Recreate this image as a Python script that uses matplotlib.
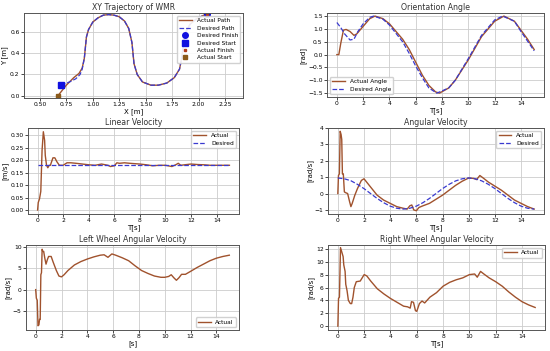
import numpy as np
from matplotlib import pyplot as plt

# ---- data ----
xy_actual_x = [0.67, 0.75, 0.82, 0.87, 0.90, 0.92, 0.93, 0.94, 0.96, 1.00, 1.05, 1.10, 1.15, 1.20, 1.25,
               1.30, 1.34, 1.37, 1.38, 1.39, 1.42, 1.47, 1.55, 1.62, 1.70, 1.77, 1.82, 1.84, 1.86, 1.88,
               1.92, 1.98, 2.04, 2.08]
xy_actual_y = [0.00, 0.10, 0.17, 0.21, 0.26, 0.35, 0.45, 0.55, 0.62, 0.69, 0.73, 0.755, 0.76, 0.755, 0.74,
               0.70, 0.63, 0.50, 0.40, 0.30, 0.20, 0.13, 0.10, 0.10, 0.12, 0.17, 0.25, 0.35, 0.50, 0.60,
               0.67, 0.72, 0.75, 0.77]
xy_desired_x = [0.70, 0.78, 0.84, 0.88, 0.90] + xy_actual_x[5:]
xy_desired_y = [0.10, 0.13, 0.16, 0.20, 0.25] + xy_actual_y[5:]

th_t = [0, 0.15, 0.3, 0.5, 0.7, 1.0, 1.3, 1.5, 2.0, 2.5, 2.9, 3.5, 4, 5, 5.5, 6, 6.5, 7, 7.5, 7.8,
        8.5, 9, 10, 11, 12, 12.7, 13.5, 14, 14.5, 15]
th_actual = [0, 0, 0.45, 0.95, 0.98, 0.9, 0.75, 0.8, 1.1, 1.4, 1.5, 1.4, 1.2, 0.6, 0.2, -0.3, -0.8, -1.2,
             -1.45, -1.5, -1.3, -1.0, -0.2, 0.7, 1.3, 1.5, 1.3, 0.95, 0.6, 0.2]
thd_t = [0, 0.3, 0.6, 1.0, 1.3, 1.6, 2.0, 2.5, 2.8, 3.5, 4, 5, 5.5, 6, 6.5, 7, 7.6, 8.5, 9, 10, 11, 12,
         12.6, 13.5, 14, 15]
th_desired = [1.25, 1.05, 0.8, 0.57, 0.6, 0.9, 1.2, 1.45, 1.5, 1.38, 1.15, 0.5, 0.05, -0.45, -0.9, -1.3,
              -1.5, -1.3, -1.0, -0.15, 0.75, 1.35, 1.5, 1.3, 0.9, 0.15]

v_t = [0, 0.05, 0.15, 0.25, 0.35, 0.45, 0.55, 0.6, 0.7, 0.8, 0.9, 1.0, 1.2, 1.35, 1.5, 1.7, 2.0, 2.3,
       2.6, 3, 3.5, 4, 4.5, 5, 5.5, 5.7, 6, 6.2, 6.4, 6.8, 7.2, 8, 8.5, 9, 9.5, 10, 10.5, 10.8, 11,
       11.2, 11.5, 12, 12.5, 13, 13.5, 14, 15]
v_actual = [0, 0.03, 0.045, 0.075, 0.24, 0.315, 0.28, 0.22, 0.18, 0.17, 0.18, 0.18, 0.21, 0.21, 0.195,
            0.18, 0.18, 0.19, 0.19, 0.188, 0.185, 0.182, 0.18, 0.185, 0.18, 0.175, 0.178, 0.19, 0.188,
            0.19, 0.188, 0.185, 0.182, 0.178, 0.18, 0.18, 0.175, 0.182, 0.188, 0.18, 0.182, 0.185,
            0.183, 0.182, 0.18, 0.18, 0.18]
vd_t = [0, 15]
v_desired = [0.18, 0.18]

w_t = [0, 0.05, 0.12, 0.18, 0.25, 0.3, 0.35, 0.42, 0.5, 0.6, 0.75, 0.9, 1.0, 1.1, 1.3, 1.5, 1.8, 2.0,
       2.3, 2.7, 3.0, 3.5, 4, 4.5, 5, 5.3, 5.5, 5.65, 5.8, 6.0, 6.2, 6.5, 7, 7.5, 8, 8.5, 9, 9.5, 10,
       10.4, 10.6, 10.85, 11.1, 11.5, 12, 12.5, 13, 13.5, 14, 14.5, 15]
w_actual = [0, 1.1, 1.2, 3.8, 3.6, 3.3, 1.2, 1.2, 0.1, 0.05, 0, -0.5, -0.8, -0.6, -0.1, 0.3, 0.8, 0.9,
            0.6, 0.2, -0.1, -0.4, -0.6, -0.8, -0.9, -0.95, -0.75, -0.7, -1.0, -1.05, -0.85, -0.75, -0.6,
            -0.35, -0.1, 0.2, 0.5, 0.75, 0.95, 0.92, 0.85, 1.1, 0.95, 0.7, 0.45, 0.2, -0.1, -0.4, -0.6,
            -0.8, -0.95]
wd_t = [0, 0.5, 1, 1.5, 2, 2.5, 3, 3.5, 4, 4.5, 5, 5.5, 6, 6.5, 7, 7.5, 8, 8.5, 9, 9.5, 10, 10.5, 11,
        11.5, 12, 12.5, 13, 13.5, 14, 14.5, 15]
w_desired = [0.95, 0.9, 0.78, 0.56, 0.3, 0, -0.3, -0.56, -0.77, -0.9, -0.95, -0.9, -0.77, -0.56, -0.3,
             0, 0.3, 0.56, 0.77, 0.9, 0.95, 0.9, 0.77, 0.56, 0.3, 0, -0.3, -0.56, -0.77, -0.9, -0.95]

wl_t = [0, 0.05, 0.12, 0.18, 0.25, 0.3, 0.35, 0.4, 0.45, 0.5, 0.55, 0.62, 0.7, 0.8, 0.9, 1.0, 1.2,
        1.35, 1.6, 1.8, 2.0, 2.2, 2.5, 3, 3.5, 4, 4.5, 5, 5.3, 5.6, 5.9, 6.2, 6.7, 7.2, 7.7, 8.2, 8.7,
        9.2, 9.7, 10, 10.3, 10.5, 10.7, 10.9, 11.1, 11.3, 11.6, 12, 12.5, 13, 13.5, 14, 14.5, 15]
wl_actual = [0, -2, -2.5, -8.5, -8.3, -7, -7, 3.5, 4, 9.5, 9.0, 9.0, 7.5, 6.0, 7.0, 7.8, 7.8, 6.5, 4.5,
             3.2, 3.0, 3.5, 4.5, 5.8, 6.6, 7.2, 7.7, 8.1, 8.2, 7.6, 8.4, 8.1, 7.5, 6.8, 5.6, 4.5, 3.8,
             3.2, 2.9, 2.9, 3.1, 3.5, 2.8, 2.2, 2.8, 3.6, 3.6, 4.3, 5.2, 6.0, 6.8, 7.4, 7.8, 8.1]

wr_t = [0, 0.05, 0.12, 0.2, 0.3, 0.4, 0.45, 0.55, 0.6, 0.7, 0.8, 0.95, 1.05, 1.15, 1.25, 1.4, 1.7, 2.0,
        2.2, 2.5, 3, 3.5, 4, 4.5, 5, 5.3, 5.5, 5.6, 5.75, 5.9, 6.0, 6.2, 6.4, 6.6, 7, 7.5, 8, 8.5, 9,
        9.5, 10, 10.4, 10.6, 10.85, 11.1, 11.5, 12, 12.5, 13, 13.5, 14, 14.5, 15]
wr_actual = [0, 4.3, 4.5, 12.2, 11.5, 10.8, 9.5, 8.5, 6.5, 5.5, 4.0, 3.5, 3.5, 4.5, 6.0, 6.9, 7.0, 8.0,
             7.8, 7.0, 5.8, 5.0, 4.3, 3.7, 3.1, 3.0, 2.8, 3.8, 3.7, 2.4, 2.3, 3.5, 3.9, 3.6, 4.5, 5.2,
             6.2, 6.8, 7.2, 7.5, 8.0, 8.1, 7.6, 8.5, 8.1, 7.5, 6.9, 6.2, 5.3, 4.5, 3.8, 3.3, 2.9]

t_ticks = [0, 2, 4, 6, 8, 10, 12, 14]

act_c = '#a0522d'
des_c = '#3a3ad0'

fig = plt.figure(figsize=(5.5, 3.51), dpi=100)


def box(l, r, t, b):
    return [l / 550, 1 - b / 351, (r - l) / 550, (b - t) / 351]


def style(ax, title, xlabel, ylabel):
    ax.set_title(title, fontsize=5.6, pad=2, color='#333333')
    ax.set_xlabel(xlabel, fontsize=5, labelpad=0.5)
    ax.set_ylabel(ylabel, fontsize=5, labelpad=1.2)
    ax.tick_params(labelsize=4.3, length=2, width=0.5, pad=1.2)
    ax.grid(True, color='#cccccc', linewidth=0.6)
    for s in ax.spines.values():
        s.set_color('#555555')
        s.set_linewidth(0.7)


def legend(ax, loc):
    ax.legend(loc=loc, fontsize=4.2, framealpha=0.9, handlelength=2.2, borderpad=0.4,
              labelspacing=0.4, edgecolor='#cccccc')


ax1 = fig.add_axes(box(24, 243, 13, 98))
ax1.plot(xy_actual_x, xy_actual_y, color=act_c, lw=1.0, label='Actual Path')
ax1.plot(xy_desired_x, xy_desired_y, '--', color=des_c, lw=0.9, label='Desired Path')
ax1.plot(xy_desired_x[-1], xy_desired_y[-1], 'o', color='#1010e0', ms=4, label='Desired Finish')
ax1.plot(xy_desired_x[0], xy_desired_y[0], 's', color='#1010e0', ms=4, label='Desired Start')
ax1.plot(xy_actual_x[-1], xy_actual_y[-1], 's', color='#b03a1a', ms=2, label='Actual Finish')
ax1.plot(xy_actual_x[0], xy_actual_y[0], 's', color='#8b5a1a', ms=3, label='Actual Start')
ax1.set_xlim(0.35, 2.42)
ax1.set_ylim(-0.02, 0.775)
ax1.set_xticks([0.5, 0.75, 1.0, 1.25, 1.5, 1.75, 2.0, 2.25])
ax1.set_yticks([0.0, 0.2, 0.4, 0.6])
style(ax1, 'XY Trajectory of WMR', 'X [m]', 'Y [m]')
legend(ax1, 'upper right')

ax2 = fig.add_axes(box(327, 544, 13, 97))
ax2.plot(th_t, th_actual, color=act_c, lw=1.0, label='Actual Angle')
ax2.plot(thd_t, th_desired, '--', color=des_c, lw=0.9, label='Desired Angle')
ax2.set_xlim(-0.75, 15.75)
ax2.set_ylim(-1.65, 1.62)
ax2.set_xticks(t_ticks)
ax2.set_yticks([-1.5, -1.0, -0.5, 0.0, 0.5, 1.0, 1.5])
style(ax2, 'Orientation Angle', 'T[s]', '[rad]')
legend(ax2, 'lower left')

ax3 = fig.add_axes(box(28, 239, 128, 214))
ax3.plot(v_t, v_actual, color=act_c, lw=1.0, label='Actual')
ax3.plot(vd_t, v_desired, '--', color=des_c, lw=0.9, label='Desired')
ax3.set_xlim(-0.75, 15.75)
ax3.set_ylim(-0.016, 0.33)
ax3.set_xticks(t_ticks)
ax3.set_yticks([0.0, 0.05, 0.10, 0.15, 0.20, 0.25, 0.30])
ax3.yaxis.set_major_formatter('{x:.2f}')
style(ax3, 'Linear Velocity', 'T[s]', '[m/s]')
legend(ax3, 'upper right')

ax4 = fig.add_axes(box(328, 544, 128, 214))
ax4.plot(w_t, w_actual, color=act_c, lw=1.0, label='Actual')
ax4.plot(wd_t, w_desired, '--', color=des_c, lw=0.9, label='Desired')
ax4.set_xlim(-0.75, 15.75)
ax4.set_ylim(-1.25, 4.0)
ax4.set_xticks(t_ticks)
ax4.set_yticks([-1, 0, 1, 2, 3, 4])
style(ax4, 'Angular Velocity', 'T[s]', '[rad/s]')
legend(ax4, 'upper right')

ax5 = fig.add_axes(box(26, 239, 245, 330))
ax5.plot(wl_t, wl_actual, color=act_c, lw=1.0, label='Actual')
ax5.set_xlim(-0.75, 15.75)
ax5.set_ylim(-9.5, 10.5)
ax5.set_xticks(t_ticks)
ax5.set_yticks([-5, 0, 5, 10])
style(ax5, 'Left Wheel Angular Velocity', '[s]', '[rad/s]')
legend(ax5, 'lower right')

ax6 = fig.add_axes(box(328, 545, 245, 330))
ax6.plot(wr_t, wr_actual, color=act_c, lw=1.0, label='Actual')
ax6.set_xlim(-0.75, 15.75)
ax6.set_ylim(-0.6, 12.6)
ax6.set_xticks(t_ticks)
ax6.set_yticks([0, 2, 4, 6, 8, 10, 12])
style(ax6, 'Right Wheel Angular Velocity', 'T[s]', '[rad/s]')
legend(ax6, 'upper right')

plt.savefig('out.png', dpi=100)
